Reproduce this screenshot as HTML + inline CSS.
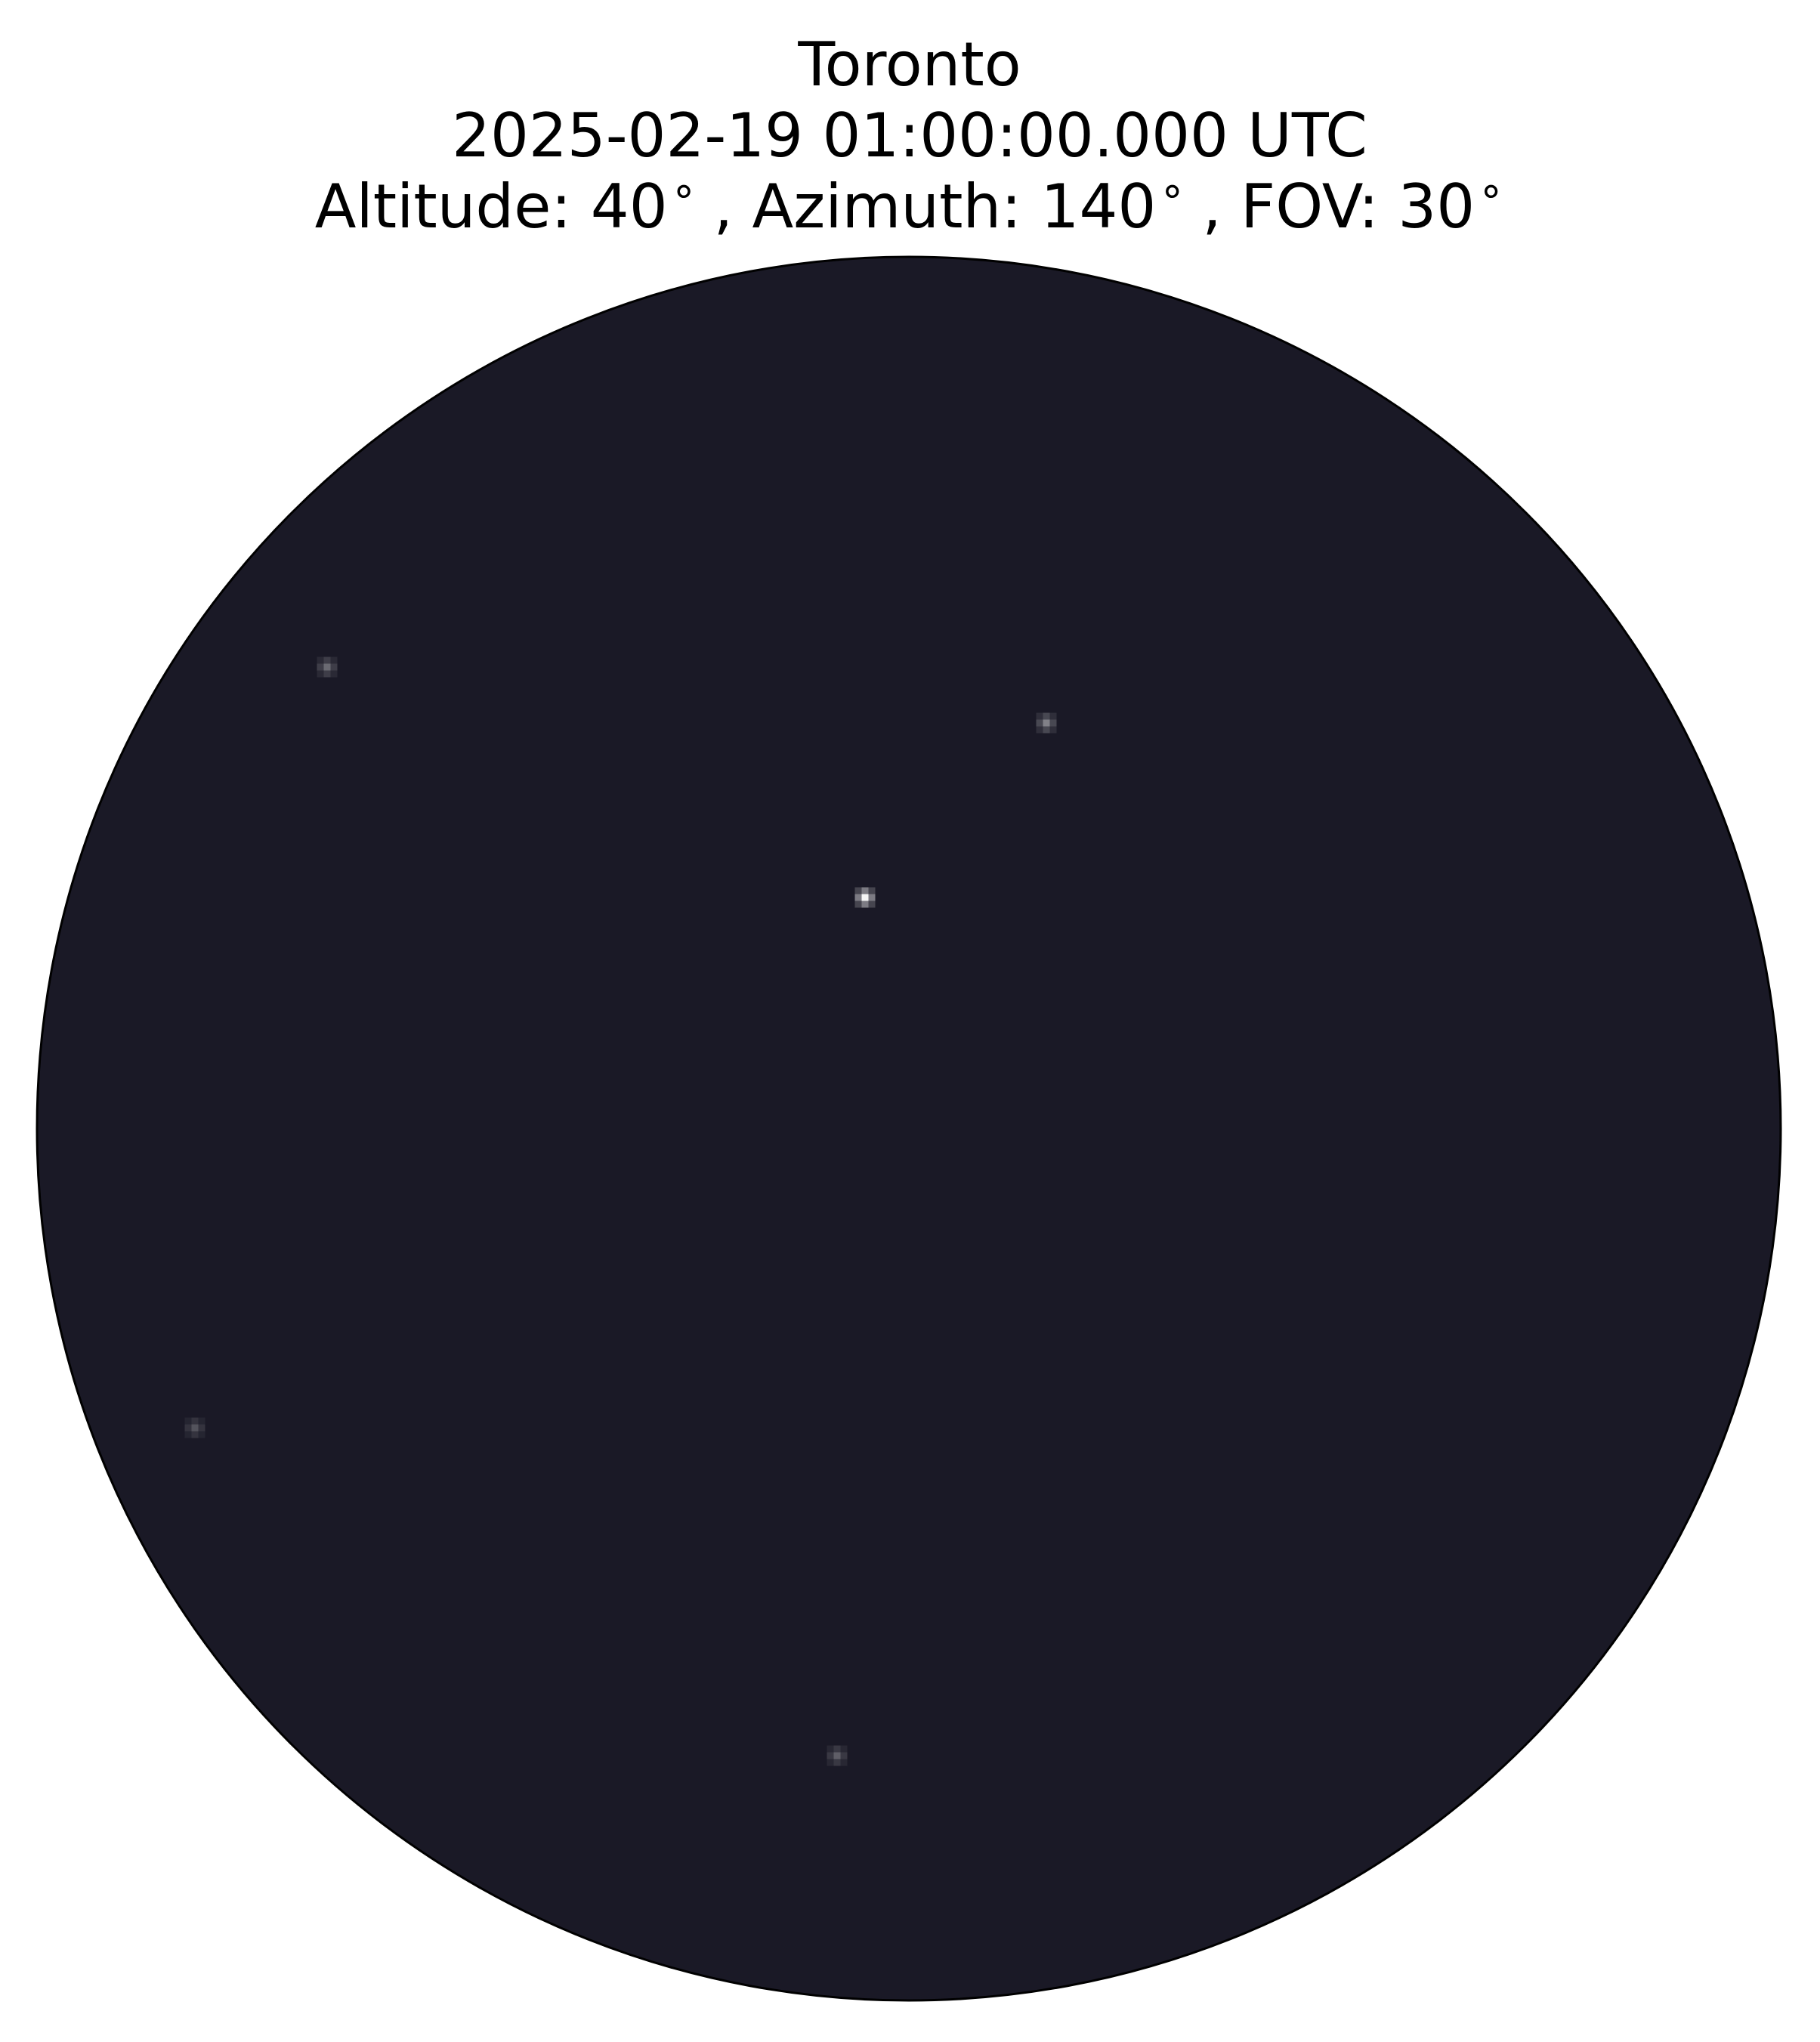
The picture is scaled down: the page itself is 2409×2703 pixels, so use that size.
<!DOCTYPE html>
<html><head><meta charset="utf-8"><style>
html,body{margin:0;padding:0;background:#fff;}
svg{display:block;}
</style></head><body>
<svg id="chart" width="2409" height="2703" viewBox="0 0 2409 2703">
<g font-family="'DejaVu Sans','Liberation Sans',sans-serif" font-size="80" text-anchor="middle" fill="#000">
<text x="1204" y="113">Toronto</text>
<text x="1204" y="207">2025-02-19 01:00:00.000 UTC</text>
<text x="1204" y="301">Altitude: 40<tspan font-size="56" dy="-30" dx="4">∘</tspan><tspan dy="30" dx="22">, Azimuth: 140</tspan><tspan font-size="56" dy="-30" dx="4">∘</tspan><tspan dy="30" dx="22">, FOV: 30</tspan><tspan font-size="56" dy="-30" dx="4">∘</tspan><tspan dy="30" dx="22"> </tspan></text>
</g>
<circle cx="1203" cy="1494" r="1154" fill="#1a1926" stroke="#000" stroke-width="3"/>
<g id="stars"></g>
</svg>
<script>
const starX = [1145, 433, 1385, 258, 1108];
const starY = [1188, 883, 957, 1890, 2324];
const starBright = [0.95, 0.35, 0.45, 0.25, 0.3];
const g = document.getElementById('stars');
const ns = 'http://www.w3.org/2000/svg';
const px = 9;
const bg = [26,25,38];
for (let i = 0; i < starX.length; i++) {
  const s = document.createElementNS(ns, 'g');
  
  
  for (let dx = -1; dx <= 1; dx++) for (let dy = -1; dy <= 1; dy++) {
    const d = Math.abs(dx) + Math.abs(dy);
    const f = starBright[i] * (d === 0 ? 1 : d === 1 ? 0.45 : 0.2);
    const c = bg.map(v => Math.round(v + (255 - v) * f));
    const r = document.createElementNS(ns, 'rect');
    r.setAttribute('x', starX[i] + dx * px - px / 2);
    r.setAttribute('y', starY[i] + dy * px - px / 2);
    r.setAttribute('width', px);
    r.setAttribute('height', px);
    r.setAttribute('fill', 'rgb(' + c.join(',') + ')');
    s.appendChild(r);
  }
  g.appendChild(s);
}
</script>
</body></html>
